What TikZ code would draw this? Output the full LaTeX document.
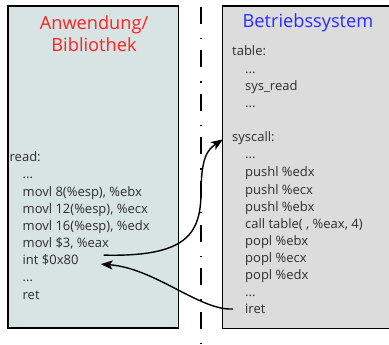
\documentclass[tikz,border=0pt]{standalone}
\usepackage{fontspec}
\setmainfont{Open Sans}
\usetikzlibrary{arrows.meta}
\definecolor{appfill}{HTML}{D7E4E3}
\definecolor{osfill}{HTML}{DCDCDC}
\definecolor{codetext}{HTML}{2E2E2E}
\definecolor{titlered}{HTML}{FF2222}
\definecolor{titleblue}{HTML}{2B2BFF}
\tikzset{
  code/.style={anchor=mid west, inner sep=0pt, text=codetext, font=\fontsize{13}{15}\selectfont},
  title/.style={align=center, inner sep=0pt, font=\fontsize{18.2}{22}\selectfont},
  panel/.style={line width=1.6pt},
  jump/.style={line width=1.4pt, -{Stealth[length=12pt,width=9pt,inset=3pt]}},
}
\begin{document}
\begin{tikzpicture}[x=1pt,y=-1pt]
\useasboundingbox (0,0) rectangle (389,345);
% user-space panel
\fill[appfill] (8,6) rectangle (178.5,328);
\draw[panel] (8,6) rectangle (178.5,328);
% kernel panel, running off the right edge
\fill[osfill] (222.5,6) rectangle (390,328.5);
\draw[panel] (390,6) -- (222.5,6) -- (222.5,328.5) -- (390,328.5);
% privilege boundary
\draw[line width=2pt, dash pattern=on 17pt off 14pt on 1.5pt off 11pt] (201,7) -- (201,345);

\node[title, text=titlered] (apptitle) at (94,34) {Anwendung/\\Bibliothek};
\node[title, text=titleblue] (ostitle) at (308,23) {Betriebssystem};

% library side
\node[code] (read) at (9.5,159) {read:};
\node[code] (r1) at (22.5,176) {...};
\node[code] (r2) at (22.5,193.5) {movl 8(\%esp), \%ebx};
\node[code] (r3) at (22.5,210.5) {movl 12(\%esp), \%ecx};
\node[code] (r4) at (22.5,227.8) {movl 16(\%esp), \%edx};
\node[code] (r5) at (22.5,244.8) {movl \$3, \%eax};
\node[code] (int) at (22.5,262) {int \$0x80};
\node[code] (r7) at (22.5,279) {...};
\node[code] (ret) at (22.5,296.5) {ret};

% kernel side
\node[code] (table) at (232,53) {table:};
\node[code] (t1) at (245,71) {...};
\node[code] (t2) at (245,88) {sys\_read};
\node[code] (t3) at (245,105) {...};
\node[code] (sys) at (232,139) {syscall:};
\node[code] (s1) at (245,156) {...};
\node[code] (s2) at (245,174) {pushl \%edx};
\node[code] (s3) at (245,191.5) {pushl \%ecx};
\node[code] (s4) at (245,208.5) {pushl \%ebx};
\node[code] (s5) at (245,226) {call table( , \%eax, 4)};
\node[code] (s6) at (245,243) {popl \%ebx};
\node[code] (s7) at (245,260) {popl \%ecx};
\node[code] (s8) at (245,277) {popl \%edx};
\node[code] (s9) at (245,294) {...};
\node[code] (iret) at (245,311) {iret};

% trap into the kernel and return
\draw[jump] ([xshift=25pt,yshift=5pt]int.east)
  .. controls (185,257) and (200,235) .. (201,195)
  .. controls (201,158) and (207,150) .. ([xshift=-9pt,yshift=-1pt]sys.west);
\draw[jump] ([xshift=-12pt]iret.west) .. controls (200,311) and (155,268) .. ([xshift=22pt,yshift=-4pt]int.east);
\end{tikzpicture}
\end{document}
